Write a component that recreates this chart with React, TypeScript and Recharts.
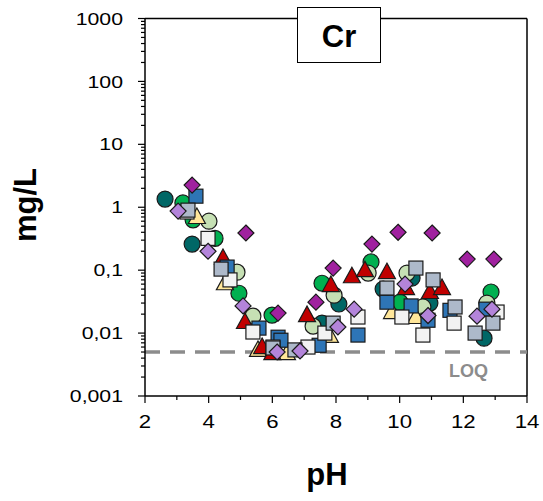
import { ScatterChart, Scatter, XAxis, YAxis, ReferenceLine } from 'recharts'

// [pH, mg/L]
const darkTeal = [[2.63, 1.35], [3.48, 0.26], [7.56, 0.0144], [8.09, 0.029], [9.48, 0.05], [10.39, 0.075], [10.95, 0.03], [12.65, 0.0083]]
const green = [[3.19, 1.17], [3.51, 0.63], [4.2, 0.32], [4.95, 0.043], [5.99, 0.0193], [7.56, 0.062], [9.1, 0.135], [10.01, 0.031], [12.87, 0.045]]
const lightGreen = [[4.01, 0.6], [4.89, 0.093], [5.39, 0.0186], [7.28, 0.0129], [7.94, 0.04], [9.01, 0.09], [10.23, 0.09], [10.73, 0.026], [12.74, 0.03]]
const yellow = [[3.63, 0.7], [4.51, 0.062], [5.55, 0.0054], [6.46, 0.0048], [7.81, 0.009], [9.76, 0.0216], [10.51, 0.018]]
const red = [[4.45, 0.156], [5.14, 0.015], [5.68, 0.006], [6.0, 0.0048], [7.09, 0.0193], [7.84, 0.058], [8.5, 0.08], [8.91, 0.1], [9.6, 0.093], [10.2, 0.052], [10.95, 0.045], [11.33, 0.052]]
const blue = [[3.6, 1.5], [4.58, 0.112], [5.58, 0.012], [6.18, 0.0086], [6.27, 0.0077], [7.47, 0.0064], [8.69, 0.0093], [9.6, 0.031], [10.36, 0.027], [10.89, 0.016], [11.58, 0.023], [12.71, 0.024]]
const white = [[3.32, 0.84], [3.98, 0.32], [4.67, 0.07], [5.39, 0.0104], [6.02, 0.006], [7.12, 0.006], [7.65, 0.01], [8.69, 0.018], [10.07, 0.018], [10.73, 0.0093], [11.71, 0.0144], [13.06, 0.0216]]
const grey = [[3.35, 0.9], [4.39, 0.104], [6.02, 0.0058], [6.71, 0.0054], [7.91, 0.0144], [9.6, 0.052], [10.51, 0.108], [11.05, 0.07], [11.74, 0.026], [12.37, 0.01], [12.93, 0.0144]]
const magenta = [[3.48, 2.25], [5.17, 0.39], [6.18, 0.0208], [7.37, 0.031], [7.91, 0.108], [9.13, 0.26], [9.95, 0.4], [11.02, 0.39], [12.12, 0.15], [12.96, 0.15]]
const lightPurple = [[3.04, 0.87], [3.98, 0.2], [5.08, 0.027], [6.15, 0.005], [6.87, 0.0052], [8.06, 0.0125], [8.57, 0.024], [10.17, 0.06], [10.89, 0.019], [12.43, 0.0186], [12.9, 0.024]]

const yTicks = [0.001, 0.01, 0.1, 1, 10, 100, 1000]
const yTickLabels = ['0,001', '0,01', '0,1', '1', '10', '100', '1000']
const xTicks = [2, 3, 4, 5, 6, 7, 8, 9, 10, 11, 12, 13, 14]
const xTickLabels = ['2', '', '4', '', '6', '', '8', '', '10', '', '12', '', '14']
const LOQ = 0.005

const yAllTicks: number[] = []
yTicks.forEach((d, i) => {
  yAllTicks.push(d)
  if (i < yTicks.length - 1) for (let m = 2; m <= 9; m++) yAllTicks.push(d * m)
})

const FONT = '"Liberation Sans", Arial, sans-serif'

const series = [
  { name: 'darkTeal', data: darkTeal, kind: 'circle', fill: '#006766' },
  { name: 'green', data: green, kind: 'circle', fill: '#00B050' },
  { name: 'lightGreen', data: lightGreen, kind: 'circle', fill: '#C6E0B4' },
  { name: 'yellow', data: yellow, kind: 'triangle', fill: '#FFE699' },
  { name: 'red', data: red, kind: 'triangle', fill: '#C00000' },
  { name: 'blue', data: blue, kind: 'square', fill: '#2E75B6' },
  { name: 'white', data: white, kind: 'square', fill: '#F2F2F2' },
  { name: 'grey', data: grey, kind: 'square', fill: '#ADB9CA' },
  { name: 'magenta', data: magenta, kind: 'diamond', fill: '#A0219F' },
  { name: 'lightPurple', data: lightPurple, kind: 'diamond', fill: '#B384DA' },
]

function marker(kind: string, fill: string) {
  return (p: any) => {
    const { cx, cy } = p
    if (cx == null || cy == null) return <g />
    const st = { fill, stroke: '#1a1a1a', strokeWidth: 1.2 }
    if (kind === 'circle') return <circle cx={cx} cy={cy} r={8} {...st} />
    if (kind === 'square') return <rect x={cx - 7} y={cy - 7} width={14} height={14} {...st} />
    if (kind === 'triangle')
      return <polygon points={`${cx},${cy - 9} ${cx + 8.5},${cy + 6.5} ${cx - 8.5},${cy + 6.5}`} {...st} />
    return <polygon points={`${cx},${cy - 8} ${cx + 8},${cy} ${cx},${cy + 8} ${cx - 8},${cy}`} {...st} />
  }
}

const YTick = (props: any) => {
  const { x, y, payload } = props
  const i = yTicks.indexOf(payload.value)
  const major = i >= 0
  return (
    <g>
      <line x1={x - (major ? 7 : 4)} x2={x} y1={y} y2={y} stroke="#000" strokeWidth={1.2} />
      {major && (
        <text transform={`translate(${x - 22},${y}) scale(1.25,1)`} textAnchor="end" dy="0.36em"
          fontSize={17} fontFamily={FONT} fill="#000">
          {yTickLabels[i]}
        </text>
      )}
    </g>
  )
}

const XTick = (props: any) => {
  const { x, y, payload } = props
  const i = xTicks.indexOf(payload.value)
  const label = xTickLabels[i]
  return (
    <g>
      <line x1={x} x2={x} y1={y} y2={y + (label ? 7 : 4)} stroke="#000" strokeWidth={1.2} />
      {label && (
        <text transform={`translate(${x},${y + 32}) scale(1.2,1)`} textAnchor="middle"
          fontSize={18.5} fontFamily={FONT} fill="#000">
          {label}
        </text>
      )}
    </g>
  )
}

export default function App() {
  return (
    <div style={{ position: 'absolute', left: 0, top: 0, width: 543, height: 501, background: '#fff' }}>
      <ScatterChart width={543} height={501} margin={{ top: 18.5, right: 16, bottom: 0, left: 0 }}>
        <XAxis type="number" dataKey="x" domain={[2, 14]} ticks={xTicks} interval={0} height={105}
          allowDataOverflow tick={<XTick />} tickLine={false} tickSize={0} tickMargin={0}
          axisLine={{ stroke: '#000', strokeWidth: 1.5 }}
          label={{
            content: () => (
              <text x={327} y={485} textAnchor="middle" fontSize={31} fontWeight="bold" fontFamily={FONT} fill="#000">pH</text>
            ),
          }} />
        <YAxis type="number" dataKey="y" scale="log" domain={[0.001, 1000]} ticks={yAllTicks} interval={0}
          width={145} allowDataOverflow tick={<YTick />} tickLine={false} tickSize={0} tickMargin={0}
          axisLine={{ stroke: '#000', strokeWidth: 1.5 }}
          label={{
            content: () => (
              <text transform="translate(36,205) rotate(-90)" textAnchor="middle" fontSize={31}
                fontWeight="bold" fontFamily={FONT} fill="#000">mg/L</text>
            ),
          }} />
        <ReferenceLine y={1000} stroke="#000" strokeWidth={1.5} />
        <ReferenceLine x={14} stroke="#000" strokeWidth={1.5} />
        <ReferenceLine y={LOQ} stroke="#8C8C8C" strokeWidth={3.5} strokeDasharray="15 10"
          label={{
            content: (p: any) => {
              const vb = p.viewBox || { x: 145, y: 352, width: 382 }
              return (
                <text x={vb.x + vb.width - 39} y={vb.y + 25} textAnchor="end" fontSize={18}
                  fontWeight="bold" fontFamily={FONT} fill="#8C8C8C">LOQ</text>
              )
            },
          }} />
        {series.map((s) => (
          <Scatter key={s.name} name={s.name} data={s.data.map(([x, y]) => ({ x, y }))}
            shape={marker(s.kind, s.fill)} isAnimationActive={false} />
        ))}
      </ScatterChart>
      <div style={{
        position: 'absolute', left: 297, top: 7, width: 84, height: 56, boxSizing: 'border-box',
        border: '1.5px solid #000', background: '#fff', display: 'flex', alignItems: 'center',
        justifyContent: 'center', fontFamily: FONT, fontWeight: 'bold', fontSize: 31, paddingTop: 4,
      }}>
        Cr
      </div>
    </div>
  )
}
